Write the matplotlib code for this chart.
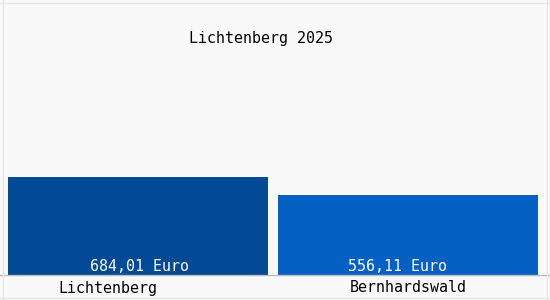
import matplotlib.pyplot as plt

# data
orte = ["Lichtenberg", "Bernhardswald"]
werte = [684.01, 556.11]
beschriftung = ["684,01 Euro", "556,11 Euro"]
farben = ["#034a96", "#0461c3"]
titel = "Lichtenberg 2025"

fig = plt.figure(figsize=(5.5, 3.0), dpi=100)
fig.patch.set_facecolor("#f9f9f9")

# plot area: axis line at y=275 px from top
ax = fig.add_axes([0, 25 / 300, 1, 275 / 300])
ax.set_facecolor("#f9f9f9")

pos = list(range(len(orte)))
ax.bar(pos, werte, width=0.96, color=farben, zorder=2)

ax.set_xlim(-0.511, 1.526)
ax.set_ylim(0, 684.01 * 275 / 98)

for s in ["top", "right", "left"]:
    ax.spines[s].set_visible(False)
ax.spines["bottom"].set_color("#bbbbbb")
ax.spines["bottom"].set_linewidth(1)
ax.set_yticks([])
ax.set_xticks([])

mono = "DejaVu Sans Mono"

# value labels inside the bars, near the bottom
versatz = [0.004, -0.037]
for p, txt, d in zip(pos, beschriftung, versatz):
    ax.text(p + d, 8, txt, ha="center", va="bottom", color="white",
            fontsize=10.8, family=mono)

# category labels under the axis
fig.text(108 / 550, 1 - 288 / 300, orte[0], ha="center", va="center",
         fontsize=10.8, family=mono, color="black")
fig.text(408 / 550, 1 - 288 / 300, orte[1], ha="center", va="center",
         fontsize=10.8, family=mono, color="black")

fig.text(261 / 550, 1 - 39 / 300, titel, ha="center", va="center",
         fontsize=10.8, family=mono, color="black")

# thin frame lines
fig.add_artist(plt.Line2D([3 / 550, 3 / 550], [0, 1], color="#e6e6e6", lw=1))
fig.add_artist(plt.Line2D([0, 1], [1 - 3 / 300, 1 - 3 / 300], color="#e6e6e6", lw=1))
fig.add_artist(plt.Line2D([547 / 550, 547 / 550], [0, 1], color="#e6e6e6", lw=1))
fig.add_artist(plt.Line2D([0, 1], [2 / 300, 2 / 300], color="#e6e6e6", lw=1))

fig.savefig("out.png", dpi=100, facecolor=fig.get_facecolor())
